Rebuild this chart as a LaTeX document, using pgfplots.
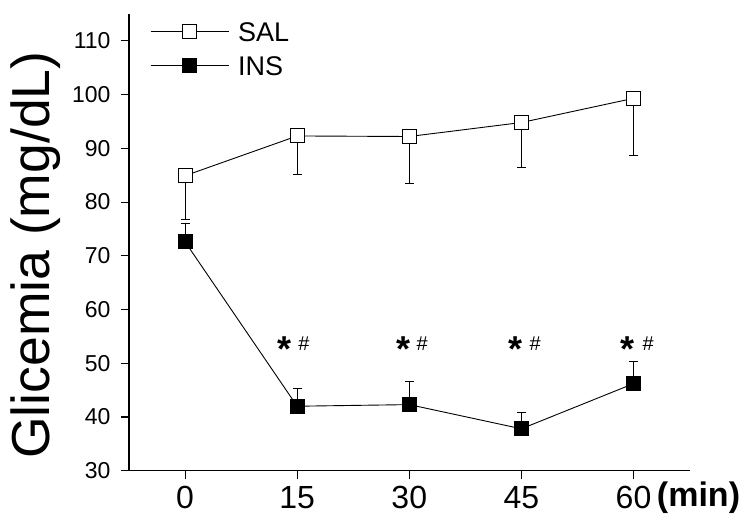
\documentclass[border=0pt]{standalone}
\usepackage{pgfplots}
\pgfplotsset{compat=1.18}
\usepackage{fontspec}
\setmainfont{Liberation Sans}
\begin{document}
\begin{tikzpicture}[x=1pt,y=1pt]
\path[use as bounding box] (0,0) rectangle (744,514);
\begin{axis}[
  at={(129pt,43.3pt)}, anchor=south west,
  scale only axis, width=561.3pt, height=456.7pt,
  xmin=-7.5, xmax=67.6, ymin=30, ymax=115,
  clip=false,
  axis x line=bottom, axis y line=left,
  axis line style={-, line width=1.2pt},
  xtick={0,15,30,45,60}, ytick={30,40,...,110},
  tick align=outside, major tick length=8pt,
  tick style={line width=1.1pt, black},
  /pgf/number format/assume math mode=true,
  xticklabel style={font=\fontsize{32}{36}\selectfont, yshift=-4pt},
  yticklabel style={font=\fontsize{23}{26}\selectfont, xshift=-7pt},
  ylabel={Glicemia (mg/dL)},
  ylabel style={font=\fontsize{53.5}{60}\selectfont, at={(axis description cs:-0.1408,0.472)}, anchor=base},
  legend style={draw=none, fill=none, font=\fontsize{27}{30}\selectfont,
    at={(axis description cs:0.0374,0.9036)}, anchor=west, inner sep=0pt,
    nodes={inner sep=0pt, text height=17pt, text depth=17pt},
    column sep=9pt},
  legend cell align=left,
  legend image code/.code={\draw[mark repeat=2,mark phase=2,yshift=9.5pt] plot coordinates {(0pt,0pt) (39pt,0pt) (78pt,0pt)};},
]
\addplot[black, line width=0.9pt, mark=square*, mark size=7pt,
  mark options={fill=white, draw=black, line width=1pt, solid},
  error bars/.cd, y dir=minus, y explicit,
  error bar style={line width=0.9pt, black},
  error mark options={rotate=90, mark size=4.5pt, line width=0.9pt, black}]
  table[x=t, y=m, y error=e] {
  t m e
  0 84.9 8.2
  15 92.3 7.2
  30 92.2 8.7
  45 94.8 8.3
  60 99.3 10.7
  };
\addlegendentry{SAL}
\addplot[black, line width=0.9pt, mark=square*, mark size=7pt,
  mark options={fill=black, draw=black, line width=1pt, solid},
  error bars/.cd, y dir=plus, y explicit,
  error bar style={line width=0.9pt, black},
  error mark options={rotate=90, mark size=4.5pt, line width=0.9pt, black}]
  table[x=t, y=m, y error=e] {
  t m e
  0 72.6 3.5
  15 42.0 3.3
  30 42.3 4.4
  45 37.8 3.05
  60 46.2 4.1
  };
\addlegendentry{INS}
\node[font=\fontsize{36}{38}\selectfont\bfseries, anchor=base] at (axis cs:13.35,50.4) {*};
\node[font=\fontsize{20}{22}\selectfont, anchor=base] at (axis cs:15.9,52.45) {\#};
\node[font=\fontsize{36}{38}\selectfont\bfseries, anchor=base] at (axis cs:29.28,50.4) {*};
\node[font=\fontsize{20}{22}\selectfont, anchor=base] at (axis cs:31.73,52.45) {\#};
\node[font=\fontsize{36}{38}\selectfont\bfseries, anchor=base] at (axis cs:44.18,50.4) {*};
\node[font=\fontsize{20}{22}\selectfont, anchor=base] at (axis cs:46.85,52.45) {\#};
\node[font=\fontsize{36}{38}\selectfont\bfseries, anchor=base] at (axis cs:59.17,50.4) {*};
\node[font=\fontsize{20}{22}\selectfont, anchor=base] at (axis cs:61.98,52.45) {\#};
\node[font=\fontsize{34}{38}\selectfont\bfseries, anchor=base] at (axis cs:68.7,23.3) {(min)};
\end{axis}
\end{tikzpicture}
\end{document}
